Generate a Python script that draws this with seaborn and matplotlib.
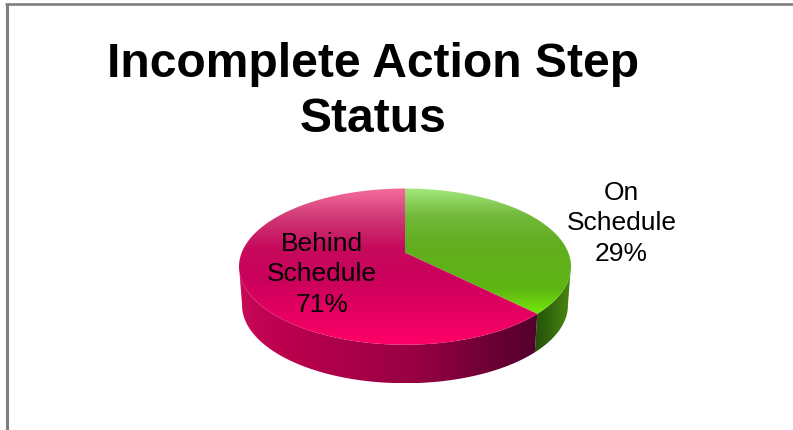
import numpy as np
import matplotlib
matplotlib.use("Agg")
import matplotlib.pyplot as plt
from matplotlib.colors import LinearSegmentedColormap
from matplotlib.patches import Polygon
import seaborn as sns

categories = ["On\nSchedule", "Behind\nSchedule"]
drawn_shares = [37.5, 62.5]      # slice sizes as they appear in the picture
printed_shares = ["29%", "71%"]  # percentages as printed on the labels
title_lines = "Incomplete Action Step\nStatus"

sns.set_theme(style="white")
plt.rcParams["font.family"] = ["Liberation Sans", "DejaVu Sans"]

fig = plt.figure(figsize=(7.93, 4.31), dpi=100, facecolor="white")
ax = fig.add_axes([0, 0, 1, 1])

wedges, _ = ax.pie(drawn_shares, startangle=90, counterclock=False)
thetas = [(w.theta1, w.theta2) for w in wedges]
for w in wedges:
    w.remove()

ax.set_aspect("auto")
ax.set_xlim(0, 793)
ax.set_ylim(431, 0)
ax.axis("off")


def rim(theta_deg, level=0.0):
    """Perspective view of the pie rim; level 1 is the underside."""
    th = np.radians(theta_deg)
    t, s = np.sin(th), np.cos(th)
    den = 0.1795 * t + 1
    x = 405 + (163.3 - 3.0 * level) * s / den
    y = (253.6 - 30.08 * t) / den + 38.5 * level
    return np.column_stack([x, y])


def shade(points, stops, horizontal=False, z=2):
    x0, y0 = points.min(axis=0)
    x1, y1 = points.max(axis=0)
    cmap = LinearSegmentedColormap.from_list("g", stops, N=256)
    ramp = np.linspace(0, 1, 256)
    ramp = ramp.reshape(1, -1) if horizontal else ramp.reshape(-1, 1)
    img = ax.imshow(ramp, cmap=cmap, vmin=0, vmax=1, aspect="auto",
                    extent=(x0, x1, y1, y0), origin="upper",
                    interpolation="bilinear", zorder=z)
    patch = Polygon(points, closed=True, transform=ax.transData,
                    facecolor="none", edgecolor="none")
    ax.add_patch(patch)
    img.set_clip_path(patch)


top_stops = [
    [(0, "#a4e87e"), (0.22, "#72b83a"), (0.45, "#62ad20"), (0.8, "#5eb612"), (1, "#74e80c")],
    [(0, "#f56d9c"), (0.18, "#d03a78"), (0.38, "#c60a5c"), (0.6, "#cc005c"), (1, "#ff0068")],
]
wall_stops = [
    [(0, "#24500a"), (1, "#4a8a10")],
    [(0, "#c80a58"), (0.15, "#bc004e"), (0.6, "#960042"), (1, "#52002c")],
]
apex = np.array([[405.0, 253.6]])

for (th1, th2), stops_w in zip(thetas, wall_stops):
    arc = np.linspace(max(th1, -170), min(th2, -10), 120)
    wall = np.vstack([rim(arc), rim(arc[::-1], 1.0)])
    shade(wall, stops_w, horizontal=True, z=2)

for (th1, th2), stops_t in zip(thetas, top_stops):
    arc = np.linspace(th1, th2, 240)
    shade(np.vstack([apex, rim(arc)]), stops_t, z=3)

ax.plot([5, 793], [5.2, 5.2], color="#7f7f7f", lw=1.9, solid_capstyle="butt", zorder=5)
ax.plot([6.5, 6.5], [5, 431], color="#7f7f7f", lw=2.2, solid_capstyle="butt", zorder=5)

ax.text(373.5, 92, title_lines, ha="center", va="center", fontsize=34.6,
        fontweight="bold", color="black", linespacing=1.27, zorder=6)

label_xy = [(621.5, 223.5), (322, 274.5)]
for name, share, (lx, ly) in zip(categories, printed_shares, label_xy):
    ax.text(lx, ly, f"{name}\n{share}", ha="center", va="center", fontsize=19,
            color="black", linespacing=1.35, zorder=6)

fig.savefig("out.png", dpi=100, facecolor="white")
